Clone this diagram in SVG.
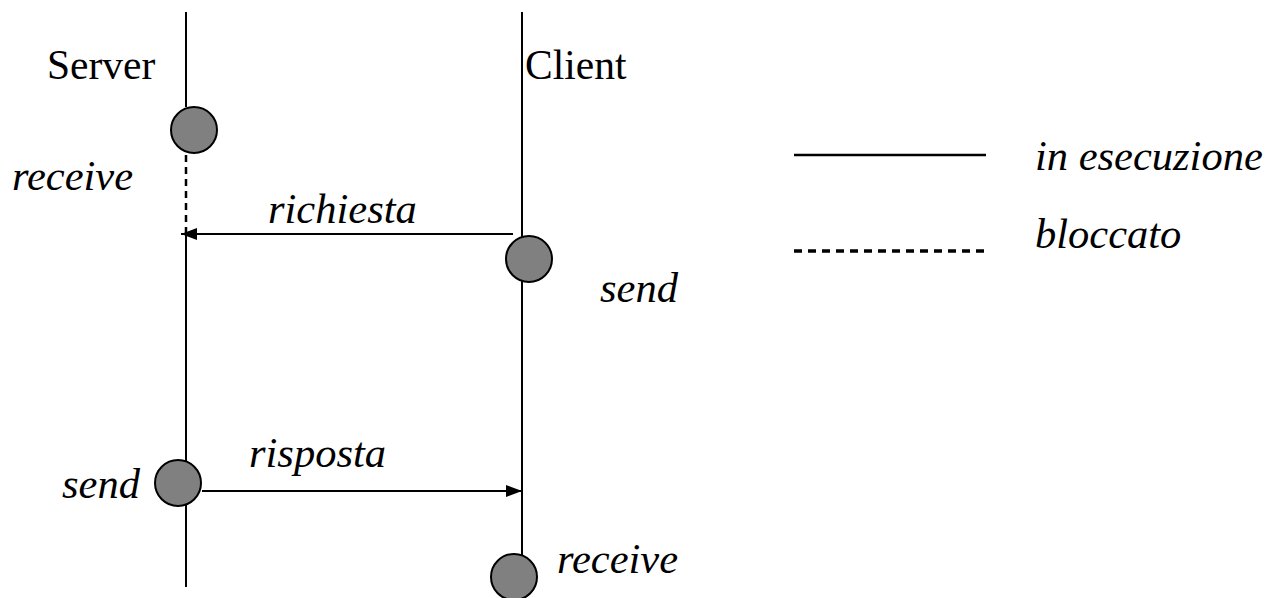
<svg xmlns="http://www.w3.org/2000/svg" width="1266" height="598" viewBox="0 0 1266 598">
  <style>
    text { font-family: 'Liberation Serif', 'Times New Roman', Times, serif; font-size: 41.5px; fill: #000; }
    .it { font-style: italic; font-size: 42.5px; }
    .life { stroke: #000; stroke-width: 2; fill: none; }
    .wait { stroke: #000; stroke-width: 2.5; stroke-dasharray: 7 5; fill: none; }
    .msg { stroke: #000; stroke-width: 2; fill: none; marker-end: url(#arrow); }
    .ev { fill: #808080; stroke: #000; stroke-width: 2; }
  </style>
  <defs>
    <marker id="arrow" viewBox="0 0 16 12" refX="16" refY="6" markerWidth="16" markerHeight="12" markerUnits="userSpaceOnUse" orient="auto">
      <path d="M0,0 L16,6 L0,12 Z" fill="#000"/>
    </marker>
  </defs>

  <!-- lifelines and messages -->
  <g id="connectors">
    <line class="life" x1="186" y1="12" x2="186" y2="107"/>
    <line class="wait" x1="186" y1="155" x2="186" y2="234"/>
    <line class="life" x1="186" y1="234" x2="186" y2="587"/>
    <line class="life" x1="522" y1="12" x2="522" y2="555"/>
    <line class="msg" x1="513" y1="234" x2="181" y2="234"/>
    <line class="msg" x1="202" y1="491" x2="522" y2="491"/>
  </g>

  <g id="server">
    <text x="47" y="79">Server</text>
  </g>
  <g id="client">
    <text x="525" y="79">Client</text>
  </g>

  <g id="server-receive">
    <circle class="ev" cx="194" cy="130" r="23"/>
    <text class="it" x="12" y="190">receive</text>
  </g>
  <g id="client-send">
    <circle class="ev" cx="529" cy="259" r="23"/>
    <text class="it" x="600" y="302">send</text>
  </g>
  <g id="server-send">
    <circle class="ev" cx="178" cy="483" r="23"/>
    <text class="it" x="62" y="498">send</text>
  </g>
  <g id="client-receive">
    <circle class="ev" cx="514" cy="577" r="23"/>
    <text class="it" x="557" y="573">receive</text>
  </g>

  <g id="msg-labels">
    <text class="it" x="268" y="223">richiesta</text>
    <text class="it" x="249" y="467">risposta</text>
  </g>

  <g id="legend">
    <line x1="794" y1="155" x2="986" y2="155" stroke="#000" stroke-width="2.5"/>
    <text class="it" x="1035" y="170">in esecuzione</text>
    <line x1="794" y1="251" x2="984" y2="251" stroke="#000" stroke-width="3.5" stroke-dasharray="8 6"/>
    <text class="it" x="1035" y="248">bloccato</text>
  </g>
</svg>
